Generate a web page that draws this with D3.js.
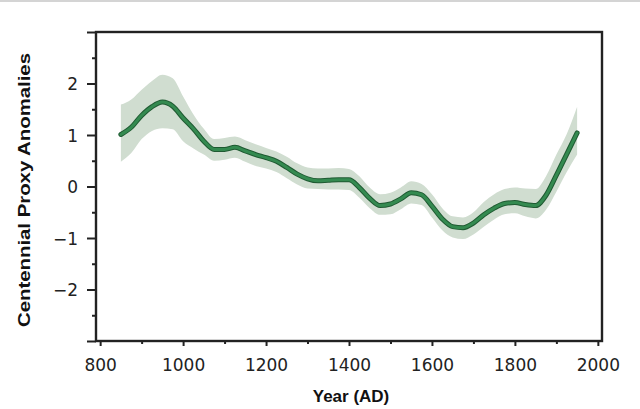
<!DOCTYPE html>
<html>
<head>
<meta charset="utf-8">
<script src="https://cdn.jsdelivr.net/npm/d3@7"></script>
<style>
  html, body { margin: 0; padding: 0; background: #fff; }
  svg { display: block; }
</style>
</head>
<body>
<svg id="chart" width="640" height="409"></svg>
<script>
const years = [850, 875, 900, 925, 950, 975, 1000, 1025, 1050, 1075, 1100, 1125, 1150, 1175, 1200,
  1225, 1250, 1275, 1300, 1325, 1350, 1375, 1400, 1425, 1450, 1475, 1500, 1525, 1550, 1575, 1600,
  1625, 1650, 1675, 1700, 1725, 1750, 1775, 1800, 1825, 1850, 1875, 1900, 1925, 1950];
const meanValues = [1.01, 1.15, 1.38, 1.55, 1.64, 1.56, 1.33, 1.12, 0.88, 0.72, 0.72, 0.76, 0.69, 0.62, 0.56,
  0.49, 0.37, 0.24, 0.15, 0.11, 0.12, 0.13, 0.13, -0.02, -0.23, -0.37, -0.34, -0.24, -0.12, -0.16, -0.38,
  -0.63, -0.78, -0.80, -0.71, -0.55, -0.42, -0.33, -0.31, -0.35, -0.37, -0.17, 0.22, 0.63, 1.04];
const upperValues = [1.59, 1.69, 1.88, 2.05, 2.17, 2.10, 1.75, 1.40, 1.12, 0.92, 0.94, 0.97, 0.90, 0.82, 0.75,
  0.68, 0.58, 0.45, 0.37, 0.35, 0.35, 0.36, 0.34, 0.20, -0.02, -0.15, -0.12, -0.02, 0.10, 0.05, -0.15,
  -0.42, -0.58, -0.60, -0.50, -0.30, -0.15, -0.05, -0.02, -0.04, -0.05, 0.20, 0.62, 1.02, 1.55];
const lowerValues = [0.48, 0.65, 0.92, 1.08, 1.13, 1.11, 0.88, 0.74, 0.62, 0.50, 0.52, 0.56, 0.48, 0.40, 0.35,
  0.28, 0.16, 0.04, -0.04, -0.05, -0.06, -0.06, -0.07, -0.22, -0.42, -0.55, -0.54, -0.44, -0.33, -0.36, -0.60,
  -0.85, -0.99, -1.02, -0.93, -0.78, -0.64, -0.54, -0.52, -0.58, -0.62, -0.45, -0.10, 0.28, 0.62];
const xMajorTicks = [800, 1000, 1200, 1400, 1600, 1800, 2000];
const xMinorTicks = [900, 1100, 1300, 1500, 1700, 1900];
const yMajorTicks = [-3, -2, -1, 0, 1, 2, 3];
const yLabeledTicks = [-2, -1, 0, 1, 2];
const yMinorTicks = [-2.5, -1.5, -0.5, 0.5, 1.5, 2.5];
const xTitle = "Year (AD)";
const yTitle = "Centennial Proxy Anomalies";

const data = years.map((yr, i) => ({ year: yr, mean: meanValues[i], lo: lowerValues[i], hi: upperValues[i] }));

const svg = d3.select("#chart");
const mLeft = 96, mRight = 602, mTop = 32, mBottom = 341;
const x = d3.scaleLinear().domain([790, 2010]).range([mLeft, mRight]);
const y = d3.scaleLinear().domain([-3, 3]).range([mBottom, mTop]);

// faint top rule of the screenshot
svg.append("rect").attr("x", 0).attr("y", 0).attr("width", 640).attr("height", 2).attr("fill", "#d4d4d4");

// band
svg.append("path").datum(data)
  .attr("fill", "#d0ddd0")
  .attr("d", d3.area().x(d => x(d.year)).y0(d => y(d.lo)).y1(d => y(d.hi)).curve(d3.curveMonotoneX));

// line (dark edge + green core)
const line = d3.line().x(d => x(d.year)).y(d => y(d.mean)).curve(d3.curveMonotoneX);
svg.append("path").datum(data).attr("fill", "none").attr("stroke", "#1f5a32")
  .attr("stroke-width", 5).attr("stroke-linejoin", "round").attr("stroke-linecap", "round").attr("d", line);
svg.append("path").datum(data).attr("fill", "none").attr("stroke", "#348a50")
  .attr("stroke-width", 3).attr("stroke-linejoin", "round").attr("stroke-linecap", "round").attr("d", line);

const axisColor = "#222";
const tickFont = "'DejaVu Sans', sans-serif";

// Y axis
const yAxisMajor = d3.axisLeft(y).tickValues(yMajorTicks).tickSize(9).tickPadding(9)
  .tickFormat(d => yLabeledTicks.includes(d) ? (d < 0 ? "\u2212" + Math.abs(d) : String(d)) : "");
const gy = svg.append("g").attr("transform", `translate(${mLeft},0)`).call(yAxisMajor);
const gyMinor = svg.append("g").attr("transform", `translate(${mLeft},0)`)
  .call(d3.axisLeft(y).tickValues(yMinorTicks).tickSize(4).tickFormat(""));

// X axis
const gx = svg.append("g").attr("transform", `translate(0,${mBottom})`)
  .call(d3.axisBottom(x).tickValues(xMajorTicks).tickSize(5).tickPadding(13).tickFormat(d3.format("d")));
const gxMinor = svg.append("g").attr("transform", `translate(0,${mBottom})`)
  .call(d3.axisBottom(x).tickValues(xMinorTicks).tickSize(3).tickFormat(""));

[gy, gyMinor, gx, gxMinor].forEach(g => {
  g.select(".domain").remove();
  g.selectAll(".tick line").attr("stroke", axisColor).attr("stroke-width", 2);
  g.selectAll(".tick text").attr("fill", "#222").style("font-family", tickFont).style("font-size", "17px");
});
gy.selectAll(".tick text").attr("dy", "0.36em");

// frame
svg.append("rect").attr("x", mLeft).attr("y", mTop).attr("width", mRight - mLeft).attr("height", mBottom - mTop)
  .attr("fill", "none").attr("stroke", axisColor).attr("stroke-width", 2.4);

// titles
svg.append("text").attr("x", 351).attr("y", 402).attr("text-anchor", "middle")
  .style("font-family", "'Liberation Sans', Arial, sans-serif").style("font-weight", "bold").style("font-size", "17px")
  .attr("fill", "#111").text(xTitle);
svg.append("text").attr("transform", "translate(29.5,190) rotate(-90)").attr("text-anchor", "middle")
  .attr("textLength", 274).attr("lengthAdjust", "spacingAndGlyphs")
  .style("font-family", "'Liberation Sans', Arial, sans-serif").style("font-weight", "bold").style("font-size", "17px")
  .attr("fill", "#111").text(yTitle);
</script>
</body>
</html>
